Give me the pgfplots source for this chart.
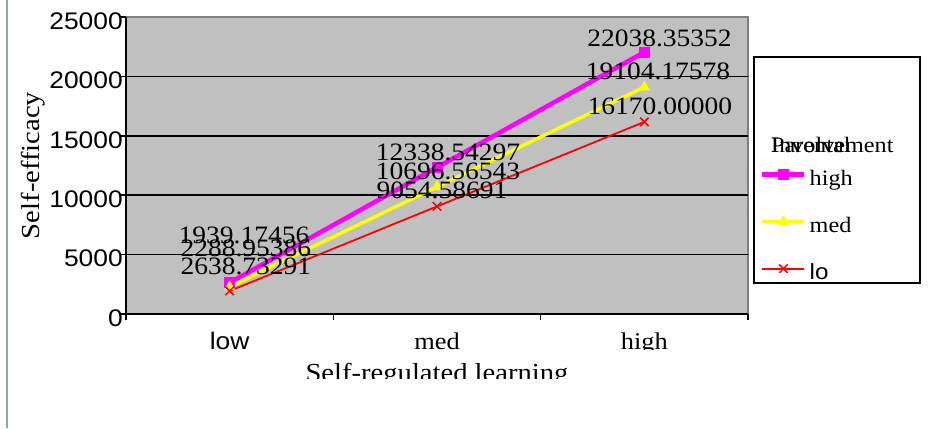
\documentclass[border=0pt]{standalone}
\usepackage{fontspec}
\setmainfont{Liberation Serif}[FakeStretch=1.1]
\setsansfont{Liberation Sans}[FakeStretch=1.1]
\usepackage{pgfplots}
\pgfplotsset{compat=1.18}
\definecolor{plotgray}{HTML}{C0C0C0}
\definecolor{framegray}{HTML}{808080}
\definecolor{borderblue}{HTML}{8DA2BF}
\definecolor{cmag}{HTML}{FF00FF}
\definecolor{cyel}{HTML}{FFFF00}
\definecolor{cred}{HTML}{FF0000}
\begin{document}
\begin{tikzpicture}
\fill[white] (0,0) rectangle (933pt,428pt);
\path[use as bounding box] (0,0) rectangle (933pt,428pt);
\fill[borderblue] (5.8pt,0) rectangle (8.3pt,428pt);
% legend box
\draw[black, line width=1.2pt, fill=white] (754pt,145pt) rectangle (920pt,371pt);
\node[anchor=base west, inner sep=0pt, font=\fontsize{22}{22}\selectfont] at (771pt,275pt) {\rlap{Parental}Involvement};
\begin{axis}[
  at={(126pt,114pt)}, anchor=south west,
  scale only axis, width=622pt, height=297pt,
  xmin=-0.5, xmax=2.5, ymin=0, ymax=25000,
  axis lines*=left,
  axis line style={black, line width=1.6pt},
  axis background/.style={fill=plotgray, draw=framegray, line width=1.6pt},
  xtick={-0.5,0.5,1.5,2.5}, xticklabels={},
  extra x ticks={0,1,2},
  extra x tick labels={{\sffamily low},med,high},
  extra x tick style={major tick length=0pt},
  x tick label style={font=\fontsize{24}{24}\selectfont, anchor=base, inner sep=0pt, yshift=-35pt},
  ytick={5000,10000,15000,20000},
  extra y ticks={0,25000},
  extra y tick style={grid=none},
  ymajorgrids,
  grid style={black, line width=1.6pt},
  tick align=outside, major tick length=6pt,
  tick style={black, line width=1.6pt},
  scaled y ticks=false,
  /pgf/number format/1000 sep={},
  /pgf/number format/assume math mode=true,
  y tick label style={font=\sffamily\fontsize{24}{24}\selectfont, anchor=east, inner sep=0pt, xshift=3pt, yshift=-4pt},
  ylabel={Self-efficacy},
  ylabel style={at={(axis description cs:-0.1495,0.5)}, anchor=center, font=\fontsize{26}{26}\selectfont, inner sep=0pt},
  xlabel={Self-regulated learning},
  xlabel style={at={(axis description cs:0.5,0)}, anchor=north, font=\fontsize{26}{26}\selectfont, inner sep=0pt, yshift=-49pt},
  legend style={at={(axis description cs:1.0193,0.4916)}, anchor=north west, draw=none, fill=none, inner sep=0pt, row sep=24pt, column sep=3pt, font=\fontsize{22}{22}\selectfont, nodes={inner sep=0pt, text height=17pt, text depth=6pt}},
  legend cell align=left,
  legend image code/.code={\draw[mark repeat=2, mark phase=2, #1] plot coordinates {(0pt,5pt) (21pt,5pt) (42pt,5pt)};},
]
\addplot[color=cmag, line width=4.5pt, mark=square*, mark size=5pt, mark options={line width=0.5pt, solid}] coordinates {(0,2638.73291) (1,12338.54297) (2,22038.35352)};
\addlegendentry{high}
\addplot[color=cyel, line width=3.5pt, mark=triangle*, mark size=6pt, mark options={line width=0.5pt, solid}] coordinates {(0,2288.95386) (1,10696.56543) (2,19104.17578)};
\addlegendentry{med}
\addplot[color=cred, line width=1.8pt, mark=x, mark size=6pt, mark options={line width=1.5pt, solid}] coordinates {(0,1939.17456) (1,9054.58691) (2,16170.00000)};
\addlegendentry{{\sffamily lo}}
\addplot[forget plot, draw=none, mark=none, nodes near coords, point meta=explicit symbolic,
  every node near coord/.append style={anchor=center, font=\fontsize{25}{25}\selectfont, inner sep=0pt, text=black}]
  table[meta=label] {
x y label
2.073 23190 22038.35352
2.066 20455 19104.17578
2.075 17508 16170.00000
1.053 13636 12338.54297
1.053 12037 10696.56543
1.024 10438 9054.58691
0.069 6650 1939.17456
0.078 5556 2288.95386
0.078 4040 2638.73291
};
\end{axis}
\fill[white] (130pt,67pt) rectangle (760pt,78pt);
\fill[white] (12pt,0pt) rectangle (933pt,49pt);
\end{tikzpicture}
\end{document}
